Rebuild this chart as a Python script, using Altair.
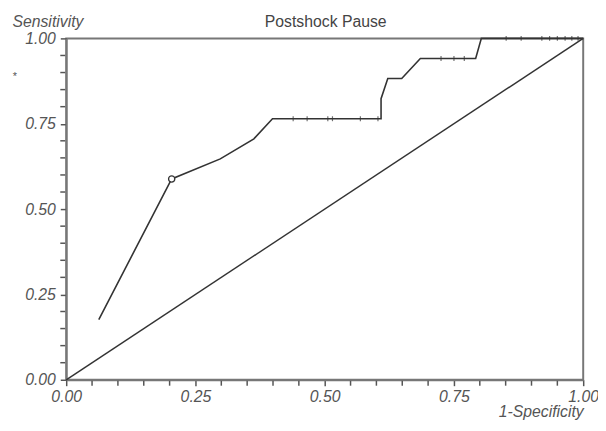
import altair as alt
import pandas as pd

# ROC curve vertices (1-Specificity, Sensitivity)
roc_fpr = [0.063, 0.204, 0.298, 0.363, 0.399, 0.609, 0.609, 0.622, 0.649, 0.685, 0.792, 0.803, 1.0]
roc_tpr = [3/17, 10/17, 11/17, 12/17, 13/17, 13/17, 14/17, 15/17, 15/17, 16/17, 16/17, 1.0, 1.0]

# small tick marks along the curve
mark_fpr = [0.439, 0.466, 0.506, 0.515, 0.569, 0.603,
            0.725, 0.75, 0.77,
            0.851, 0.88, 0.92, 0.935, 0.95, 0.965, 0.978, 0.99]
mark_tpr = [13/17] * 6 + [16/17] * 3 + [1.0] * 8

# highlighted cut-off point
cut_fpr = [0.204]
cut_tpr = [10/17]

# reference diagonal
diag_x = [0.0, 1.0]
diag_y = [0.0, 1.0]

major_ticks = [0.0, 0.25, 0.5, 0.75, 1.0]
minor_ticks = [0.05, 0.1, 0.15, 0.2, 0.3, 0.35, 0.4, 0.45, 0.55, 0.6, 0.65, 0.7,
               0.8, 0.85, 0.9, 0.95]

title_text = ["Postshock Pause"]
star_text = ["*"]

roc = pd.DataFrame({"x": roc_fpr, "y": roc_tpr, "o": list(range(len(roc_fpr)))})
marks = pd.DataFrame({"x": mark_fpr, "y": mark_tpr})
cut = pd.DataFrame({"x": cut_fpr, "y": cut_tpr})
diag = pd.DataFrame({"x": diag_x, "y": diag_y})
minor = pd.DataFrame({"v": minor_ticks})

xscale = alt.Scale(domain=[0, 1], nice=False, zero=False)
yscale = alt.Scale(domain=[0, 1], nice=False, zero=False)

common = dict(
    values=major_ticks, format=".2f", labelOverlap=False, labelFlush=False,
    grid=False, domainColor="#777", domainWidth=2, tickColor="#555", tickSize=6, tickWidth=1.5,
    labelFontStyle="italic", labelFontSize=16, labelColor="#555",
    titleFontStyle="italic", titleFontWeight="normal", titleFontSize=16, titleColor="#555",
)
x_axis = alt.Axis(
    title="1-Specificity", titleX=524, titleY=37, titleAlign="right", titleBaseline="alphabetic",
    labelPadding=3, **common,
)
y_axis = alt.Axis(
    title="Sensitivity", titleX=-55, titleY=-12, titleAlign="left", titleBaseline="alphabetic",
    titleAngle=0, labelPadding=5, **common,
)

base_diag = alt.Chart(diag).mark_line(color="#333", strokeWidth=1.5).encode(
    x=alt.X("x:Q", scale=xscale, axis=x_axis),
    y=alt.Y("y:Q", scale=yscale, axis=y_axis),
)
curve = alt.Chart(roc).mark_line(color="#333", strokeWidth=1.6).encode(
    x="x:Q", y="y:Q", order="o:Q"
)
ticks = alt.Chart(marks).mark_tick(color="#333", orient="vertical", size=5, thickness=1.2).encode(
    x="x:Q", y="y:Q"
)
circle = alt.Chart(cut).mark_point(shape="circle", filled=True, fill="white", stroke="#333",
                                    strokeWidth=1.3, size=40, opacity=1).encode(x="x:Q", y="y:Q")

# minor ticks on both axes
minor_x = alt.Chart(minor).mark_rule(color="#555", strokeWidth=1.5).encode(
    x="v:Q", y=alt.value(347), y2=alt.value(352)
)
minor_y = alt.Chart(minor).mark_rule(color="#555", strokeWidth=1.5).encode(
    y="v:Q", x=alt.value(-6), x2=alt.value(-1)
)

title = alt.Chart(pd.DataFrame({"t": title_text})).mark_text(
    fontSize=16, color="#444", align="center", baseline="alphabetic"
).encode(text="t:N", x=alt.value(263), y=alt.value(-12))

star = alt.Chart(pd.DataFrame({"t": star_text})).mark_text(
    fontSize=11, color="#555", align="center", baseline="middle"
).encode(text="t:N", x=alt.value(-52), y=alt.value(39))

chart = alt.layer(base_diag, minor_x, minor_y, curve, ticks, circle, title, star).properties(
    width=524, height=346,
    autosize=alt.AutoSizeParams(type="none"),
    padding={"left": 59, "top": 28, "right": 15, "bottom": 41},
).configure(font="Liberation Sans").configure_view(stroke="#777", strokeWidth=2)

chart.save("out.html", embed_options={"renderer": "svg", "actions": False})
